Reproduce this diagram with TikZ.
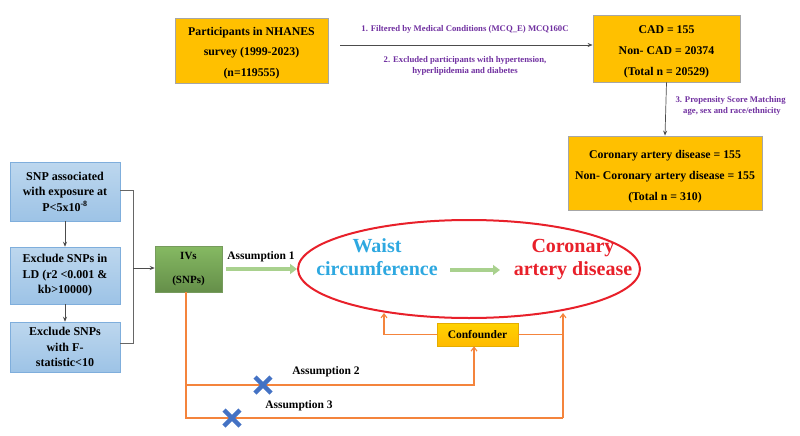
\documentclass[tikz,border=0pt]{standalone}
\usepackage{fontspec}
\setmainfont{Liberation Serif}
\usetikzlibrary{arrows.meta,positioning,shapes.geometric}
\definecolor{gold}{HTML}{FFC000}
\definecolor{goldb}{HTML}{A6A6A6}
\definecolor{purp}{HTML}{7030A0}
\definecolor{sky}{HTML}{9DC3E6}
\definecolor{skyb}{HTML}{BDD7EE}
\definecolor{skyd}{HTML}{7FAEDC}
\definecolor{grn}{HTML}{70AD47}
\definecolor{grnd}{HTML}{548235}
\definecolor{org}{HTML}{F4843C}
\definecolor{wblue}{HTML}{2EA8E0}
\definecolor{cred}{HTML}{E8202A}
\definecolor{xblue}{HTML}{4472C4}
\definecolor{larrow}{HTML}{A9D18E}
\newcommand{\gtxt}[2]{\raisebox{#1}[0pt][0pt]{\begin{tabular}{@{}c@{}}#2\end{tabular}}}
\tikzset{
  goldbox/.style={draw=goldb, line width=0.8pt, fill=gold, font=\bfseries\fontsize{11.8}{21}\selectfont, inner sep=0pt},
  bluebox/.style={draw=skyd, line width=0.5pt, top color=skyb, bottom color=sky, align=center, font=\bfseries\fontsize{12}{15.5}\selectfont, inner sep=0pt, minimum width=110pt},
  purplabel/.style={text=purp, font=\bfseries\fontsize{8.7}{11}\selectfont, align=center},
  blk/.style={draw=black!70, line width=0.7pt, -{Stealth[length=5pt,width=4pt]}},
  orl/.style={draw=org, line width=1.1pt},
  ora/.style={draw=org, line width=1.1pt, -{Straight Barb[length=4pt,width=6pt]}},
  fat/.style={draw=larrow, line width=3.5pt, -{Triangle[length=7pt,width=10pt]}},
  xmark/.style={draw=xblue, line width=4.5pt},
  asslabel/.style={font=\bfseries\fontsize{11.5}{13}\selectfont}
}
\begin{document}
\begin{tikzpicture}[x=1pt,y=-1pt]
\useasboundingbox (0,0) rectangle (800,436);
% top flow
\node[goldbox, font=\bfseries\fontsize{11.8}{20}\selectfont, minimum width=153pt, minimum height=65pt] (nh) at (251.5,50.5) {\gtxt{-4.5pt}{Participants in NHANES\\survey (1999-2023)\\(n=119555)}};
\node[goldbox, minimum width=147pt, minimum height=67pt] (cad) at (666.5,48.5) {\gtxt{-5pt}{CAD = 155\\Non- CAD = 20374\\(Total n = 20529)}};
\node[goldbox, minimum width=194pt, minimum height=74pt] (cor) at (665,173) {\gtxt{-5pt}{Coronary artery disease = 155\\Non- Coronary artery disease = 155\\(Total n = 310)}};
\coordinate (a1s) at (340,45);
\draw[blk] (a1s) -- (cad.west |- a1s);
\node[purplabel] (l1) at (465,29) {1. Filtered by Medical Conditions (MCQ\_E) MCQ160C};
\node[purplabel] (l2) at (465,66) {2. Excluded participants with hypertension,\\hyperlipidemia and diabetes};
\draw[blk] (cad.south) -- (cor.north);
\node[purplabel, anchor=west] (l3) at (672,100.5) {3. Propensity Score Matching};
\node[purplabel] (l3b) at (732,111.5) {age, sex and race/ethnicity};
% left blue boxes
\node[bluebox, minimum height=59pt] (b1) at (65,191.5) {SNP associated\\with exposure at\\P<5x10\textsuperscript{-8}};
\node[bluebox, minimum height=57pt] (b2) at (65,275.5) {Exclude SNPs in\\LD (r2 <0.001 \&\\kb>10000)};
\node[bluebox, minimum height=50pt] (b3) at (65,347) {Exclude SNPs\\with F-\\statistic<10};
\draw[blk] (b1) -- (b2);
\draw[blk] (b2) -- (b3);
\coordinate (br1) at (133,190);
\coordinate (br3) at (133,343);
\coordinate (brm) at (133,268);
\draw[draw=black!60, line width=0.7pt] (b1.east |- br1) -- (br1) -- (br3) -- (b3.east |- br3);
% IVs
\node[draw=grnd!80, line width=0.5pt, top color=grn!85, bottom color=grnd!90, minimum width=67pt, minimum height=46pt, align=center, font=\bfseries\fontsize{11}{24}\selectfont, inner sep=0pt] (iv) at (188.5,269) {IVs\\(SNPs)};
\draw[blk] (brm) -- (iv.west |- brm);
% ellipse
\node[draw=cred, line width=2pt, ellipse, minimum width=342pt, minimum height=98pt] (el) at (469,269) {};
\node[text=wblue, font=\bfseries\fontsize{20}{23}\selectfont, align=center] (wc) at (377,257) {Waist\\circumference};
\node[text=cred, font=\bfseries\fontsize{20}{23}\selectfont, align=center] (cd) at (573,260) {Coronary\\artery disease};
\draw[fat] (450,270) -- (500,270);
\node[asslabel] (as1) at (261,257) {Assumption 1};
\draw[fat] (226,269) -- (297,269);
% confounder
\node[draw=gold!90!black, line width=0.5pt, top color=gold!70!yellow, bottom color=gold!90!orange, minimum width=81pt, minimum height=23pt, font=\bfseries\fontsize{11.5}{12}\selectfont, inner sep=0pt] (cf) at (477.5,334.5) {Confounder};
\coordinate (ct1) at (384,313);
\coordinate (ct2) at (563,313);
\coordinate (vb) at (563,418);
\coordinate (ivb) at (186,418);
\coordinate (ivm) at (186,385);
\coordinate (cfb) at (474,385);
\draw[ora] (cf.west) -- (cf.west -| ct1) -- (ct1);
\draw[orl] (cf.east) -- (cf.east -| ct2);
\draw[ora] (vb) -- (ct2);
\draw[orl] (iv.south -| ivb) -- (ivb) -- (vb);
\draw[ora] (ivm) -- (cfb) -- (cfb |- cf.south);
\node[asslabel] (as2) at (326,372) {Assumption 2};
\node[asslabel] (as3) at (299,406) {Assumption 3};
% crosses
\draw[xmark] (255,377) -- (271,393) (255,393) -- (271,377);
\draw[xmark] (224,410) -- (240,426) (224,426) -- (240,410);
\end{tikzpicture}
\end{document}
